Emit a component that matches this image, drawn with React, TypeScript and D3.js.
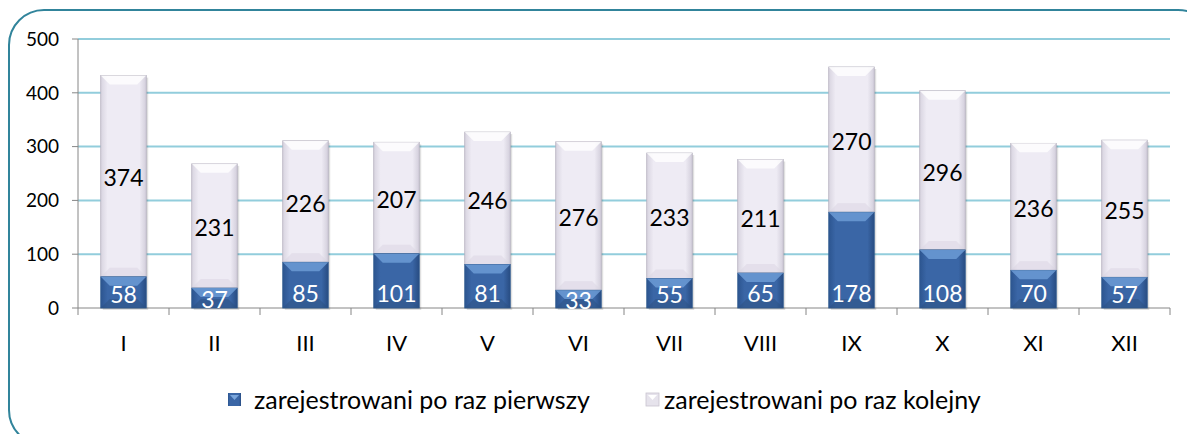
import React from "react";
import * as d3 from "d3";

const categories = ["I", "II", "III", "IV", "V", "VI", "VII", "VIII", "IX", "X", "XI", "XII"];
const firstTime = [58, 37, 85, 101, 81, 33, 55, 65, 178, 108, 70, 57];
const nextTime = [374, 231, 226, 207, 246, 276, 233, 211, 270, 296, 236, 255];
const seriesNames = ["zarejestrowani po raz pierwszy", "zarejestrowani po raz kolejny"];
const yTicks = [0, 100, 200, 300, 400, 500];

const W = 1187;
const H = 434;
const FONT = "Lato, 'Open Sans', sans-serif";

export default function App() {
  const x = d3.scaleBand<string>().domain(categories).range([78, 1170]).paddingInner(0.5).paddingOuter(0.25);
  const y = d3.scaleLinear().domain([0, 500]).range([308, 39]);
  const bw = x.bandwidth();
  const bev = 9;

  const bar = (cx: number, y0: number, y1: number, kind: "blue" | "light", key: string) => {
    const top = y(y1);
    const bot = y(y0);
    const h = bot - top;
    const b = Math.min(bev, h / 2);
    const fill = kind === "blue" ? "url(#gBlue)" : "url(#gLight)";
    const topFill = kind === "blue" ? "#6f9fd8" : "#ffffff";
    const botFill = kind === "blue" ? "#2c4f80" : "#d9d4e2";
    const stroke = kind === "blue" ? "#2f5a8e" : "#b3afbd";
    return (
      <g key={key}>
        <rect x={cx + 2} y={top + 2} width={bw} height={h} fill="#000" opacity={0.12} />
        <rect x={cx} y={top} width={bw} height={h} fill={fill} stroke={stroke} strokeWidth={0.8} />
        <polygon
          points={`${cx},${top} ${cx + bw},${top} ${cx + bw - b},${top + b} ${cx + b},${top + b}`}
          fill={topFill}
          opacity={0.8}
        />
        <polygon
          points={`${cx},${bot} ${cx + bw},${bot} ${cx + bw - b},${bot - b} ${cx + b},${bot - b}`}
          fill={botFill}
          opacity={0.5}
        />
      </g>
    );
  };

  return (
    <svg width={W} height={H} style={{ position: "absolute", left: 0, top: 0 }} fontFamily={FONT}>
      <defs>
        <linearGradient id="gBlue" x1="0" x2="1" y1="0" y2="0">
          <stop offset="0" stopColor="#2c5590" />
          <stop offset="0.15" stopColor="#3a66a6" />
          <stop offset="0.85" stopColor="#3a66a6" />
          <stop offset="1" stopColor="#284c82" />
        </linearGradient>
        <linearGradient id="gLight" x1="0" x2="1" y1="0" y2="0">
          <stop offset="0" stopColor="#d8d4e0" />
          <stop offset="0.15" stopColor="#eeebf4" />
          <stop offset="0.85" stopColor="#eeebf4" />
          <stop offset="1" stopColor="#d2cedb" />
        </linearGradient>
      </defs>
      <rect x={0} y={0} width={W} height={H} fill="#fff" />
      <rect x={9} y={10} width={1204} height={435} rx={35} ry={35} fill="none" stroke="#31849b" strokeWidth={2} />
      {yTicks.map((t) => (
        <g key={t}>
          {t > 0 && <line x1={78} x2={1170} y1={y(t)} y2={y(t)} stroke="#92cddc" strokeWidth={2} />}
          <line x1={72} x2={78} y1={y(t)} y2={y(t)} stroke="#868686" />
          <text x={59} y={y(t)} dy="0.36em" textAnchor="end" fontSize={19} fill="#000">
            {t}
          </text>
        </g>
      ))}
      <line x1={78} x2={78} y1={39} y2={308} stroke="#868686" />
      <line x1={78} x2={1170} y1={308} y2={308} stroke="#868686" />
      {categories.map((c, i) => (
        <line key={"t" + i} x1={78 + i * 91} x2={78 + i * 91} y1={308} y2={315} stroke="#868686" />
      ))}
      <line x1={1170} x2={1170} y1={308} y2={315} stroke="#868686" />
      {categories.map((c, i) => {
        const cx = x(c)!;
        const a = firstTime[i];
        const b = nextTime[i];
        return (
          <g key={c}>
            {bar(cx, a, a + b, "light", "l" + i)}
            {bar(cx, 0, a, "blue", "b" + i)}
            <text x={cx + bw / 2} y={Math.max(y(a / 2), y(0) - 16) + 2} dy="0.36em" textAnchor="middle" fontSize={23} fill="#fff">
              {a}
            </text>
            <text x={cx + bw / 2} y={y(a + b / 2) + 2} dy="0.36em" textAnchor="middle" fontSize={23} fill="#000">
              {b}
            </text>
            <text x={cx + bw / 2} y={343} dy="0.36em" textAnchor="middle" fontSize={22} fill="#000">
              {c}
            </text>
          </g>
        );
      })}
      <g>
        <rect x={228} y={393} width={13} height={13} fill="url(#gBlue)" />
        <polygon points="230,395 239,395 234.5,400" fill="#7aa6dc" />
        <text x={254} y={400} dy="0.36em" fontSize={25} fill="#000">
          {seriesNames[0]}
        </text>
        <rect x={646} y={393} width={13} height={13} fill="#e6e3ec" stroke="#c8c4cf" strokeWidth={0.8} />
        <polygon points="648,395 657,395 652.5,400" fill="#ffffff" />
        <text x={664} y={400} dy="0.36em" fontSize={25} fill="#000">
          {seriesNames[1]}
        </text>
      </g>
    </svg>
  );
}
